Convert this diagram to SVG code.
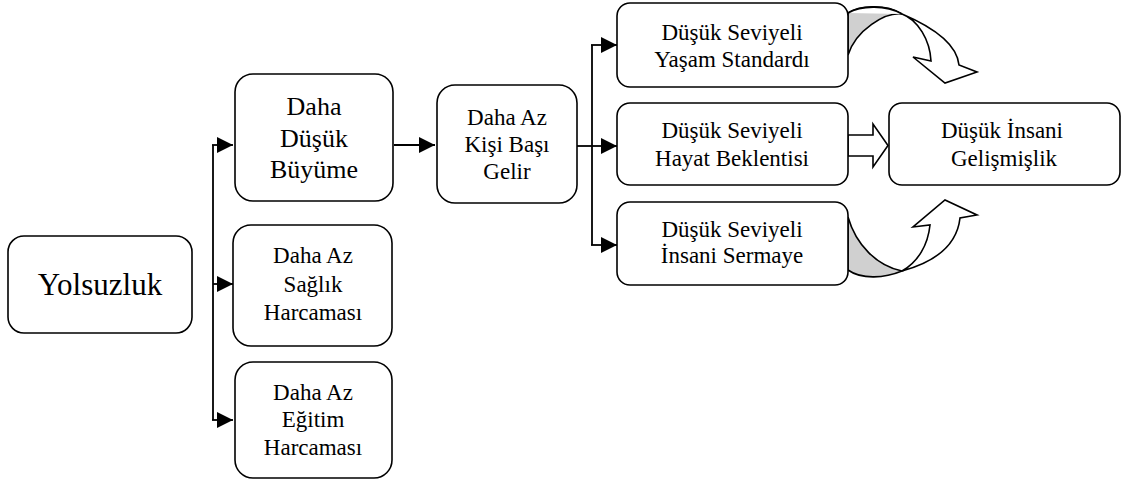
<svg xmlns="http://www.w3.org/2000/svg" width="1122" height="481" viewBox="0 0 1122 481">
<defs>
<style>
.box{fill:#fff;stroke:#000;stroke-width:1.6}
.t{font-family:"Liberation Serif","Tinos","Times New Roman","DejaVu Serif",serif;font-size:23px;fill:#000;text-anchor:middle}
.t26{font-size:26px}
.t31{font-size:31px}
.ln{fill:none;stroke:#000;stroke-width:1.8}
.blk{fill:#fff;stroke:#000;stroke-width:1.6;stroke-linejoin:miter}
.shade{fill:#d0d0d0;stroke:#000;stroke-width:1.6}
</style>
<marker id="ah" markerUnits="userSpaceOnUse" markerWidth="17" markerHeight="17" refX="16" refY="8" orient="auto">
<path d="M0,0 L16,8 L0,16 z" fill="#000"/>
</marker>
</defs>
<rect width="1122" height="481" fill="#fff"/>
<g id="connectors">
<path class="ln" d="M213,145 V420"/>
<path class="ln" d="M212,145 H233" marker-end="url(#ah)"/>
<path class="ln" d="M213,284 H233" marker-end="url(#ah)"/>
<path class="ln" d="M212,420 H233" marker-end="url(#ah)"/>
<path class="ln" d="M394,145 H435" marker-end="url(#ah)"/>
<path class="ln" d="M577,146 H592"/>
<path class="ln" d="M592,45 V245"/>
<path class="ln" d="M591,45 H617" marker-end="url(#ah)"/>
<path class="ln" d="M592,146 H617" marker-end="url(#ah)"/>
<path class="ln" d="M591,245 H617" marker-end="url(#ah)"/>
<path class="blk" d="M848,135 H873 V124 L888,145.5 L873,167 V156 H848 Z"/>
<path class="shade" d="M848,13 C858,6 885,3 902,14 C885,12 856,30 848,55 Z"/>
<path class="blk" d="M902,14 C935,28 957,45 959,65 L977,72 L945,83 L913,57 L931,61 C930,40 918,20 902,14 C885,4 860,6 848,13"/>
<path class="shade" d="M848,217 C856,245 877,266 902,271 C885,278 862,280 848,270 Z"/>
<path class="blk" d="M902,271 C935,262 957,245 960,218 L977,215 L945,200 L913,227 L930,225 C928,245 918,262 902,271"/>
</g>
<g id="n-yolsuzluk">
<rect class="box" x="8" y="236" width="184" height="97" rx="16"/>
<text class="t t31" x="100" y="295">Yolsuzluk</text>
</g>
<g id="n-buyume">
<rect class="box" x="235" y="74" width="158" height="127" rx="18"/>
<text class="t t26" x="314" y="115">Daha</text>
<text class="t t26" x="314" y="147">Düşük</text>
<text class="t t26" x="314" y="178">Büyüme</text>
</g>
<g id="n-saglik">
<rect class="box" x="233" y="225" width="159" height="121" rx="18"/>
<text class="t" x="313" y="263">Daha Az</text>
<text class="t" x="313" y="292">Sağlık</text>
<text class="t" x="313" y="320">Harcaması</text>
</g>
<g id="n-egitim">
<rect class="box" x="235" y="362" width="157" height="116" rx="18"/>
<text class="t" x="313" y="400">Daha Az</text>
<text class="t" x="313" y="427">Eğitim</text>
<text class="t" x="313" y="455">Harcaması</text>
</g>
<g id="n-gelir">
<rect class="box" x="437" y="85" width="140" height="118" rx="18"/>
<text class="t" x="507" y="125">Daha Az</text>
<text class="t" x="507" y="152">Kişi Başı</text>
<text class="t" x="507" y="179">Gelir</text>
</g>
<g id="n-yasam">
<rect class="box" x="617" y="3" width="231" height="84" rx="13"/>
<text class="t" x="732" y="40">Düşük Seviyeli</text>
<text class="t" x="732" y="67">Yaşam Standardı</text>
</g>
<g id="n-hayat">
<rect class="box" x="617" y="103" width="231" height="82" rx="13"/>
<text class="t" x="732" y="138">Düşük Seviyeli</text>
<text class="t" x="732" y="166">Hayat Beklentisi</text>
</g>
<g id="n-sermaye">
<rect class="box" x="617" y="202" width="231" height="83" rx="13"/>
<text class="t" x="732" y="237">Düşük Seviyeli</text>
<text class="t" x="732" y="263">İnsani Sermaye</text>
</g>
<g id="n-gelismislik">
<rect class="box" x="889" y="103" width="231" height="82" rx="13"/>
<text class="t" x="1002" y="138">Düşük İnsani</text>
<text class="t" x="1004" y="166">Gelişmişlik</text>
</g>
</svg>
